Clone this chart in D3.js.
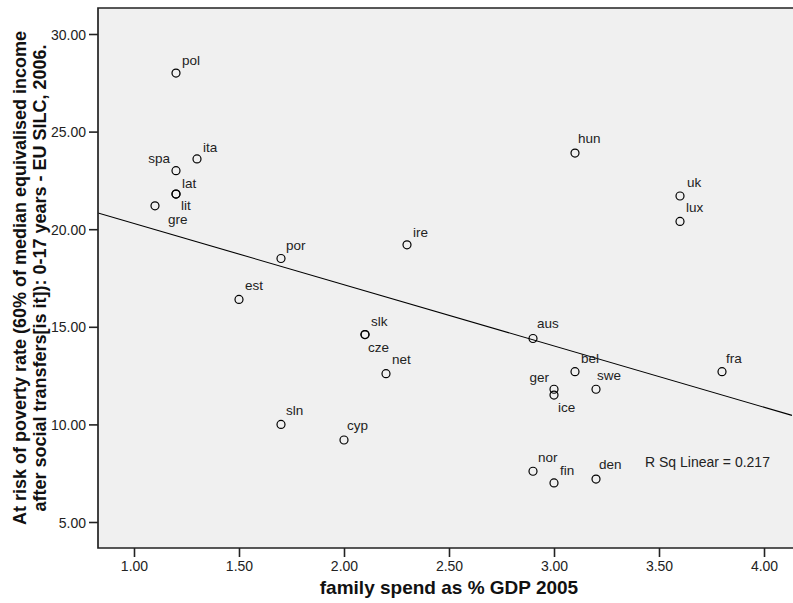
<!DOCTYPE html>
<html>
<head>
<meta charset="utf-8">
<script src="https://cdn.jsdelivr.net/npm/d3@7"></script>
<style>
  html, body { margin: 0; padding: 0; background: #fff; }
  svg { display: block; font-family: "Liberation Sans", Arial, sans-serif; }
</style>
</head>
<body>
<svg id="chart" width="793" height="603"></svg>
<script>
// Country codes, family spending (% of GDP, 2005) and child at-risk-of-poverty rate before transfers (EU SILC 2006)
const countries = ["pol","ita","spa","lat","lit","gre","por","est","ire","hun","uk","lux","slk","cze","net","aus","bel","fra","ger","ice","swe","sln","cyp","nor","fin","den"];
const familySpend = [1.2,1.3,1.2,1.2,1.2,1.1,1.7,1.5,2.3,3.1,3.6,3.6,2.1,2.1,2.2,2.9,3.1,3.8,3.0,3.0,3.2,1.7,2.0,2.9,3.0,3.2];
const povertyRate = [28.0,23.6,23.0,21.8,21.8,21.2,18.5,16.4,19.2,23.9,21.7,20.4,14.6,14.6,12.6,14.4,12.7,12.7,11.8,11.5,11.8,10.0,9.2,7.6,7.0,7.2];

const xTicks = [1.0,1.5,2.0,2.5,3.0,3.5,4.0];
const yTicks = [5,10,15,20,25,30];

const xTitle = "family spend as % GDP 2005";
const yTitleLines = ["At risk of poverty rate (60% of median equivalised income",
                     "after social transfers[is it]): 0-17 years - EU SILC, 2006."];
const fitLabel = "R Sq Linear = 0.217";

// Label placement relative to each marker: [dx, dy, anchor]
const labelPlacement = {
  pol:[6,-8,"start"], ita:[6,-7,"start"], spa:[-6,-8,"end"], lat:[6,-6,"start"],
  lit:[5,16,"start"], gre:[13,18,"start"], por:[5,-8,"start"], est:[6,-9,"start"],
  ire:[6,-8,"start"], hun:[3,-10,"start"], uk:[7,-9,"start"], lux:[6,-9,"start"],
  slk:[6,-9,"start"], cze:[3,17,"start"], net:[6,-10,"start"], aus:[4,-11,"start"],
  bel:[6,-9,"start"], fra:[4,-9,"start"], ger:[-5,-7,"end"], ice:[4,17,"start"],
  swe:[1,-9,"start"], sln:[5,-9,"start"], cyp:[3,-10,"start"], nor:[5,-9,"start"],
  fin:[6,-8,"start"], den:[3,-10,"start"]
};

const svg = d3.select("#chart");
const plot = {left: 98, right: 792, top: 8, bottom: 548};

const x = d3.scaleLinear().domain([0.8286, 4.1333]).range([plot.left, plot.right]);
const y = d3.scaleLinear().domain([3.668, 31.332]).range([plot.bottom, plot.top]);

// plot background
svg.append("rect")
  .attr("x", plot.left).attr("y", plot.top)
  .attr("width", plot.right - plot.left + 4).attr("height", plot.bottom - plot.top)
  .attr("fill", "#f0f0f0");

svg.append("clipPath").attr("id", "plotClip")
  .append("rect").attr("x", plot.left).attr("y", plot.top)
  .attr("width", plot.right - plot.left + 4).attr("height", plot.bottom - plot.top);

// least-squares fit line
const n = countries.length;
const mx = d3.mean(familySpend), my = d3.mean(povertyRate);
let sxy = 0, sxx = 0;
for (let i = 0; i < n; i++) {
  sxy += (familySpend[i] - mx) * (povertyRate[i] - my);
  sxx += (familySpend[i] - mx) ** 2;
}
const slope = sxy / sxx, intercept = my - slope * mx;
const [x0, x1] = x.domain();
svg.append("line")
  .attr("clip-path", "url(#plotClip)")
  .attr("x1", x(x0)).attr("y1", y(intercept + slope * x0))
  .attr("x2", x(x1)).attr("y2", y(intercept + slope * x1))
  .attr("stroke", "#000").attr("stroke-width", 1.1);

// axes
const xAxis = svg.append("g")
  .attr("transform", `translate(0,${plot.bottom})`)
  .call(d3.axisBottom(x).tickValues(xTicks).tickFormat(d3.format(".2f")).tickSize(9).tickSizeOuter(0));
const yAxis = svg.append("g")
  .attr("transform", `translate(${plot.left},0)`)
  .call(d3.axisLeft(y).tickValues(yTicks).tickFormat(d3.format(".2f")).tickSize(9).tickSizeOuter(0));

[xAxis, yAxis].forEach(g => {
  g.select(".domain").remove();
  g.selectAll(".tick line").attr("stroke", "#222").attr("stroke-width", 1.6);
  g.selectAll(".tick text").attr("fill", "#222").attr("font-size", 14)
    .attr("font-family", "Liberation Sans, Arial, sans-serif");
});
xAxis.selectAll(".tick text").attr("dy", null).attr("y", 23);
yAxis.selectAll(".tick text").attr("x", -12).attr("dy", "0.36em");

// frame
svg.append("path")
  .attr("d", `M${plot.right + 4},${plot.top}H${plot.left}V${plot.bottom}H${plot.right + 4}`)
  .attr("fill", "none").attr("stroke", "#222").attr("stroke-width", 1.7);

// markers
const pts = countries.map((c, i) => ({c, xv: familySpend[i], yv: povertyRate[i]}));
svg.append("g").selectAll("circle").data(pts).join("circle")
  .attr("cx", d => x(d.xv)).attr("cy", d => y(d.yv)).attr("r", 4)
  .attr("fill", "none").attr("stroke", "#000").attr("stroke-width", 1.2);

// country labels
svg.append("g").selectAll("text").data(pts).join("text")
  .attr("x", d => x(d.xv) + labelPlacement[d.c][0])
  .attr("y", d => y(d.yv) + labelPlacement[d.c][1])
  .attr("text-anchor", d => labelPlacement[d.c][2])
  .attr("font-size", 13.5).attr("fill", "#222")
  .text(d => d.c);

// fit statistic
svg.append("text").attr("x", 645).attr("y", 467)
  .attr("font-size", 14).attr("fill", "#222").text(fitLabel);

// axis titles
svg.append("text")
  .attr("x", 449).attr("y", 594)
  .attr("text-anchor", "middle").attr("font-weight", "bold").attr("font-size", 19)
  .attr("fill", "#111").text(xTitle);

const yTitle = svg.append("text")
  .attr("transform", `translate(26,${(plot.top + plot.bottom) / 2}) rotate(-90)`)
  .attr("text-anchor", "middle").attr("font-weight", "bold").attr("font-size", 18)
  .attr("fill", "#111");
yTitleLines.forEach((t, i) => {
  yTitle.append("tspan").attr("x", 0).attr("y", i * 19.5).text(t);
});
</script>
</body>
</html>
